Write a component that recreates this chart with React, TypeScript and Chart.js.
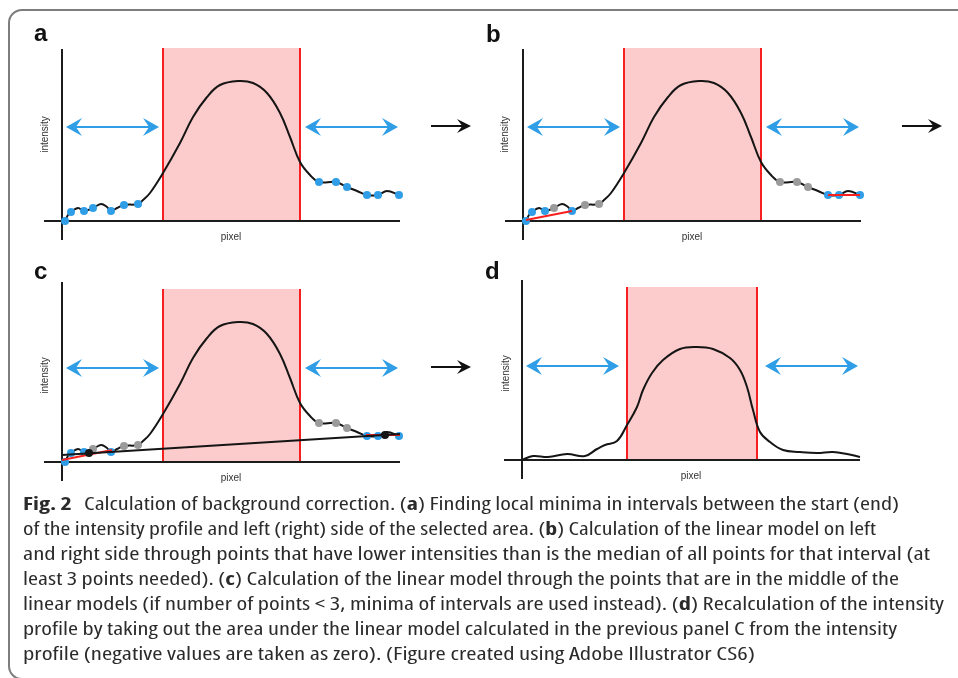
import React, { useEffect, useLayoutEffect, useRef } from "react";
import { Chart, registerables } from "chart.js";

Chart.register(...registerables);

type P = [number, number];

// ---------- data (x = pixel, y = intensity) ----------
const profile: P[] = [
  [3, 0], [6, 6], [9, 9], [16, 13], [22, 10], [31, 13], [39, 17], [45, 14], [49, 10],
  [55, 13], [62, 16], [76, 17], [81, 21], [88, 28], [101, 48], [118, 78], [131, 104],
  [145, 124], [158, 136], [176, 140], [191, 138], [205, 128], [218, 108], [228, 84],
  [238, 59], [248, 46], [257, 39], [274, 39], [285, 34], [295, 30], [305, 26], [316, 26],
  [325, 30], [337, 26],
];
const correctedProfile: P[] = [
  [0, 0], [11, 4], [26, 3], [45, 6], [63, 4], [75, 11], [83, 15], [95, 19], [105, 35],
  [115, 53], [121, 70], [130, 87], [141, 100], [158, 111], [175, 113], [191, 111],
  [208, 102], [218, 90], [225, 73], [231, 50], [238, 28], [248, 18], [261, 10], [278, 8],
  [295, 7], [311, 8], [325, 6], [338, 3],
];
const allMinima: P[] = [
  [3, 0], [9, 9], [22, 10], [31, 13], [49, 10], [62, 16], [76, 17],
  [257, 39], [274, 39], [285, 34], [305, 26], [316, 26], [337, 26],
];
const belowMedian: P[] = [[3, 0], [9, 9], [22, 10], [49, 10], [305, 26], [316, 26], [337, 26]];
const aboveMedian: P[] = [[31, 13], [62, 16], [76, 17], [257, 39], [274, 39], [285, 34]];
const leftModelB: P[] = [[3, 1], [49, 10]];
const rightModelB: P[] = [[305, 26], [337, 26]];
const leftModelC: P[] = [[0, 2], [50, 12]];
const rightModelC: P[] = [[304, 27], [338, 27]];
const middlePoints: P[] = [[27, 9], [323, 27]];
const globalModel: P[] = [[0, 7], [338, 28]];
const selectedArea: P = [101, 238];
const selectedAreaD: P = [105, 235];
const areaTop = 173;
const intervalArrowY = 94;
const leftInterval: P = [4, 97];
const rightInterval: P = [243, 336];
const nextArrowAC: P = [369, 409];
const nextArrowB: P = [379, 419];
const nextArrowY = 95;
const xAxisExtent: P = [-18, 338];
const yAxisExtentAB: P = [-19, 172];
const yAxisExtentCD: P = [-19, 180];

const captionLines: [string, boolean][][] = [
  [["Fig. 2", true], ["\u2002Calculation of background correction. (", false], ["a", true], [") Finding local minima in intervals between the start (end)", false]],
  [["of the intensity profile and left (right) side of the selected area. (", false], ["b", true], [") Calculation of the linear model on left", false]],
  [["and right side through points that have lower intensities than is the median of all points for that interval (at", false]],
  [["least 3 points needed). (", false], ["c", true], [") Calculation of the linear model through the points that are in the middle of the", false]],
  [["linear models (if number of points < 3, minima of intervals are used instead). (", false], ["d", true], [") Recalculation of the intensity", false]],
  [["profile by taking out the area under the linear model calculated in the previous panel C from the intensity", false]],
  [["profile (negative values are taken as zero). (Figure created using Adobe Illustrator CS6)", false]],
];

// ---------- styles / layout ----------
const BLUE = "#2f9ee6";
const GRAY = "#9b9b9b";
const BLACK = "#151515";
const RED = "#f5201f";
const PINK = "#fccbcb";
const SANS = "'Liberation Sans', Arial, sans-serif";
const CAPTION_LINE_WIDTHS = [876, 853, 907, 876, 921, 874, 732];

const pts = (a: P[]) => a.map(([x, y]) => ({ x, y }));

type ArrowItem = { from: number; to: number; y: number; color: string; width: number; double: boolean; hl: number; hw: number };

function drawHead(ctx: CanvasRenderingContext2D, x: number, y: number, dir: number, hl: number, hw: number) {
  ctx.beginPath();
  ctx.moveTo(x, y);
  ctx.lineTo(x - dir * hl, y - hw);
  ctx.lineTo(x - dir * hl * 0.62, y);
  ctx.lineTo(x - dir * hl, y + hw);
  ctx.closePath();
  ctx.fill();
}

const arrowPlugin = {
  id: "arrows",
  afterDatasetsDraw(chart: any, _args: any, opts: any) {
    const items: ArrowItem[] = (opts && opts.items) || [];
    const ctx = chart.ctx as CanvasRenderingContext2D;
    const xs = chart.scales.x;
    const ys = chart.scales.y;
    for (const it of items) {
      const x0 = xs.getPixelForValue(it.from);
      const x1 = xs.getPixelForValue(it.to);
      const y = ys.getPixelForValue(it.y);
      ctx.save();
      ctx.strokeStyle = it.color;
      ctx.fillStyle = it.color;
      ctx.lineWidth = it.width;
      ctx.beginPath();
      ctx.moveTo(it.double ? x0 + it.hl * 0.6 : x0, y);
      ctx.lineTo(x1 - it.hl * 0.6, y);
      ctx.stroke();
      drawHead(ctx, x1, y, 1, it.hl, it.hw);
      if (it.double) drawHead(ctx, x0, y, -1, it.hl, it.hw);
      ctx.restore();
    }
  },
};

type Panel = {
  key: string;
  label: string;
  left: number;
  top: number;
  width: number;
  height: number;
  padRight: number;
  padBottom: number;
  titlePadBottom: number;
  yTitlePad: { top: number; bottom: number };
  area: P;
  yAxis: P;
  next: P | null;
  datasets: any[];
};

const lineDs = (data: P[], color: string, width: number, order: number, extra: any = {}) => ({
  type: "line",
  data: pts(data),
  borderColor: color,
  borderWidth: width,
  pointRadius: 0,
  fill: false,
  clip: false,
  order,
  ...extra,
});
const dotDs = (data: P[], color: string, order: number, r = 4) => ({
  type: "line",
  data: pts(data),
  showLine: false,
  pointRadius: r,
  pointBackgroundColor: color,
  pointBorderWidth: 0,
  clip: false,
  order,
});
const curveDs = (data: P[]) => lineDs(data, BLACK, 2, 5, { tension: 0.4 });

function baseDatasets(area: P, yAxis: P) {
  return [
    lineDs([[area[0], areaTop], [area[1], areaTop]], "rgba(0,0,0,0)", 0, 9, { fill: "origin", backgroundColor: PINK }),
    lineDs([[area[0], 0], [area[0], areaTop]], RED, 2, 8),
    lineDs([[area[1], 0], [area[1], areaTop]], RED, 2, 8),
    lineDs([[xAxisExtent[0], 0], [xAxisExtent[1], 0]], "#1c1c1c", 2, 7),
    lineDs([[0, yAxis[0]], [0, yAxis[1]]], "#1c1c1c", 2, 7),
  ];
}

const panels: Panel[] = [
  {
    key: "a", label: "a", left: 34, top: 22, width: 444, height: 240, padRight: 78, padBottom: 15,
    titlePadBottom: 2, yTitlePad: { top: 5, bottom: 11 }, area: selectedArea, yAxis: yAxisExtentAB, next: nextArrowAC,
    datasets: [curveDs(profile), dotDs(allMinima, BLUE, 2)],
  },
  {
    key: "b", label: "b", left: 486, top: 23, width: 464, height: 240, padRight: 89, padBottom: 16,
    titlePadBottom: 1, yTitlePad: { top: 13, bottom: 12 }, area: selectedArea, yAxis: yAxisExtentAB, next: nextArrowB,
    datasets: [
      curveDs(profile),
      dotDs(aboveMedian, GRAY, 2),
      dotDs(belowMedian, BLUE, 2),
      lineDs(leftModelB, RED, 2, 1),
      lineDs(rightModelB, RED, 2, 1),
    ],
  },
  {
    key: "c", label: "c", left: 34, top: 260, width: 444, height: 240, padRight: 78, padBottom: 12,
    titlePadBottom: 5, yTitlePad: { top: 5, bottom: 11 }, area: selectedArea, yAxis: yAxisExtentCD, next: nextArrowAC,
    datasets: [
      curveDs(profile),
      dotDs(aboveMedian, GRAY, 3),
      dotDs(belowMedian, BLUE, 3),
      lineDs(leftModelC, RED, 2, 2),
      lineDs(rightModelC, RED, 2, 2),
      lineDs(globalModel, BLACK, 1.8, 1),
      dotDs(middlePoints, BLACK, 0),
    ],
  },
  {
    key: "d", label: "d", left: 485, top: 260, width: 400, height: 240, padRight: 25, padBottom: 14,
    titlePadBottom: 3, yTitlePad: { top: 15, bottom: 10 }, area: selectedAreaD, yAxis: yAxisExtentCD, next: null,
    datasets: [curveDs(correctedProfile)],
  },
];

function PanelChart({ p }: { p: Panel }) {
  const ref = useRef<HTMLCanvasElement>(null);
  useEffect(() => {
    if (!ref.current) return;
    const items: ArrowItem[] = [
      { from: leftInterval[0], to: leftInterval[1], y: intervalArrowY, color: BLUE, width: 2, double: true, hl: 16, hw: 9 },
      { from: rightInterval[0], to: rightInterval[1], y: intervalArrowY, color: BLUE, width: 2, double: true, hl: 16, hw: 9 },
    ];
    if (p.next) items.push({ from: p.next[0], to: p.next[1], y: nextArrowY, color: "#111", width: 2, double: false, hl: 14, hw: 7 });
    const chart = new Chart(ref.current, {
      type: "line",
      data: { datasets: [...p.datasets, ...baseDatasets(p.area, p.yAxis)] as any },
      options: {
        responsive: false,
        animation: false,
        devicePixelRatio: 1,
        events: [],
        layout: { autoPadding: false, padding: { left: 0, top: 0, right: p.padRight, bottom: p.padBottom } },
        plugins: {
          legend: { display: false },
          tooltip: { enabled: false },
          title: {
            display: true,
            text: p.label,
            align: "start",
            color: "#111",
            font: { family: SANS, size: 24, weight: "bold", lineHeight: 1 },
            padding: { top: 0, bottom: p.titlePadBottom },
          },
          arrows: { items },
        } as any,
        scales: {
          x: {
            type: "linear", min: 0, max: 338,
            grid: { display: false, drawTicks: false }, border: { display: false }, ticks: { display: false },
            title: { display: true, text: "pixel", color: "#333", font: { family: SANS, size: 10 }, padding: { top: 10, bottom: 4 } },
          },
          y: {
            type: "linear", min: 0, max: areaTop,
            grid: { display: false, drawTicks: false }, border: { display: false }, ticks: { display: false },
            title: { display: true, text: "intensity", color: "#333", font: { family: SANS, size: 10 }, padding: p.yTitlePad },
          },
        },
      },
      plugins: [arrowPlugin as any],
    });
    return () => chart.destroy();
  }, [p]);
  return (
    <canvas
      ref={ref}
      width={p.width}
      height={p.height}
      style={{ position: "absolute", left: p.left, top: p.top, width: p.width, height: p.height }}
    />
  );
}

function Caption() {
  const ref = useRef<HTMLDivElement>(null);
  useLayoutEffect(() => {
    const el = ref.current;
    if (!el) return;
    const lines = Array.from(el.children) as HTMLElement[];
    lines.forEach((l, i) => {
      l.style.transform = "none";
      const w = l.getBoundingClientRect().width;
      const s = w > 0 ? CAPTION_LINE_WIDTHS[i] / w : 1;
      l.style.transform = `scaleX(${s})`;
    });
  }, []);
  return (
    <div ref={ref} style={{ position: "absolute", left: 23, top: 491 }}>
      {captionLines.map((segs, i) => (
        <div
          key={i}
          style={{
            width: "max-content",
            whiteSpace: "pre",
            fontFamily: "'Open Sans', 'Noto Sans', sans-serif",
            fontStretch: "87.5%",
            fontSize: 17.5,
            lineHeight: "25px",
            height: 25,
            color: "#2b2b2b",
            transformOrigin: "0 0",
          }}
        >
          {segs.map(([t, b], j) => (
            <span key={j} style={{ fontWeight: b ? 700 : 400 }}>{t}</span>
          ))}
        </div>
      ))}
    </div>
  );
}

export default function App() {
  return (
    <div style={{ position: "absolute", left: 0, top: 0, width: 958, height: 678, overflow: "hidden", background: "#fff" }}>
      <div
        style={{
          position: "absolute", left: 8, top: 9, width: 1000, height: 671, boxSizing: "border-box",
          border: "2px solid #7d7d7d", borderRadius: 14,
        }}
      />
      {panels.map((p) => (
        <PanelChart key={p.key} p={p} />
      ))}
      <Caption />
    </div>
  );
}
